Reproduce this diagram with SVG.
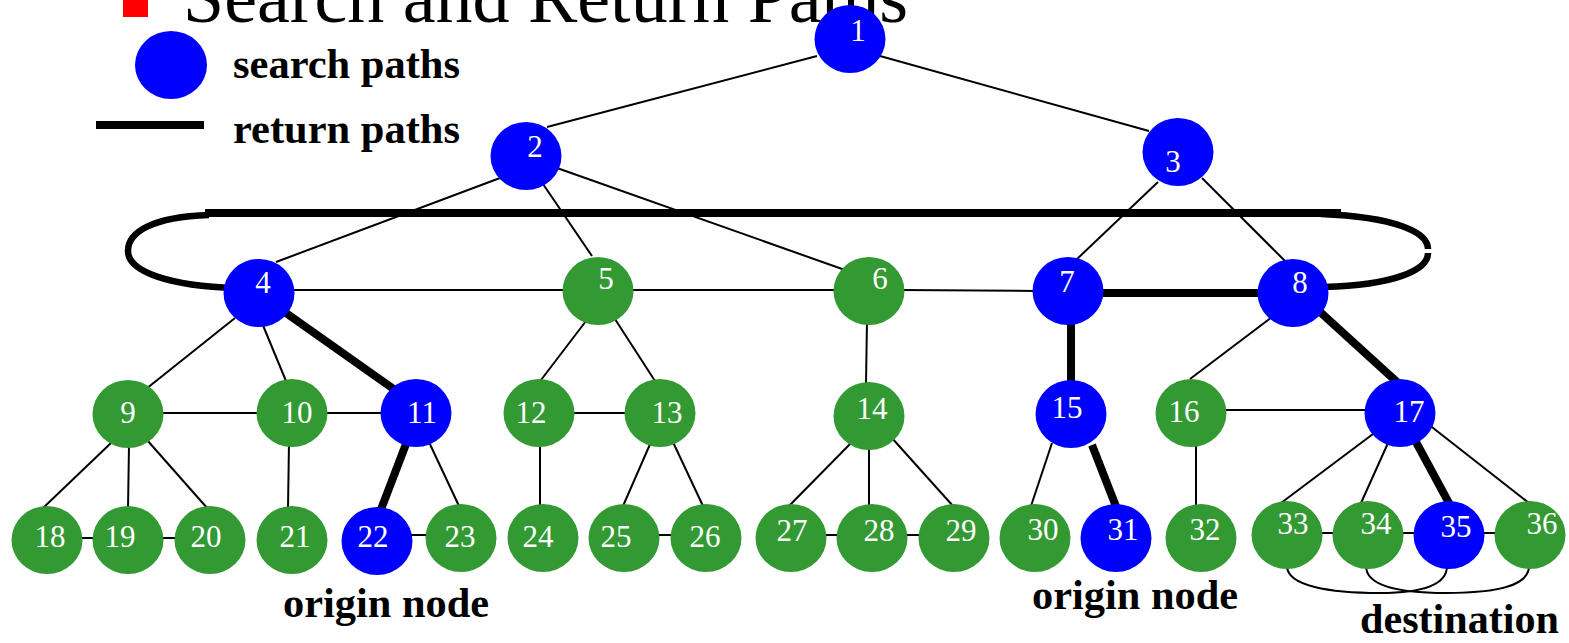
<svg xmlns="http://www.w3.org/2000/svg" width="1569" height="643" viewBox="0 0 1569 643">
  <style>
    .edge { stroke: #000; stroke-width: 2; fill: none; }
    .ret { stroke: #000; stroke-width: 8; fill: none; }
    .loop { stroke: #000; stroke-width: 6.5; fill: none; }
    .blue { fill: #0000ff; }
    .green { fill: #339933; }
    .num { font-family: "Liberation Serif", "Times New Roman", serif; font-size: 31px; fill: #fff; text-anchor: middle; }
    .cap { font-family: "Liberation Serif", "Times New Roman", serif; font-size: 43px; font-weight: bold; fill: #000; }
  </style>

  <!-- heading -->
  <g id="heading">
    <rect x="123" y="-8" width="25" height="25" fill="#ff0000"/>
    <text x="183" y="22" font-family="Liberation Serif, Times New Roman, serif" font-size="74" fill="#000" textLength="725" lengthAdjust="spacingAndGlyphs">Search and Return Paths</text>
  </g>

  <!-- legend -->
  <g id="legend">
    <ellipse cx="171" cy="65" rx="36" ry="34" class="blue"/>
    <text x="233" y="78" class="cap" textLength="227" lengthAdjust="spacingAndGlyphs">search paths</text>
    <rect x="96" y="121" width="108" height="8" fill="#000"/>
    <text x="233" y="143" class="cap" textLength="227" lengthAdjust="spacingAndGlyphs">return paths</text>
  </g>

  <!-- connectors -->
  <g id="connectors">
    <line class="edge" x1="817" y1="56" x2="547" y2="127"/>
    <line class="edge" x1="880" y1="56" x2="1149" y2="131"/>
    <line class="edge" x1="500" y1="178" x2="276" y2="262"/>
    <line class="edge" x1="543" y1="184" x2="592" y2="256"/>
    <line class="edge" x1="557" y1="168" x2="845" y2="270"/>
    <line class="edge" x1="1158" y1="182" x2="1076" y2="260"/>
    <line class="edge" x1="1202" y1="178" x2="1285" y2="261"/>
    <line class="edge" x1="290" y1="290" x2="566" y2="290"/>
    <line class="edge" x1="630" y1="290" x2="834" y2="290"/>
    <line class="edge" x1="900" y1="290" x2="1036" y2="291"/>
    <line class="edge" x1="235" y1="318" x2="146" y2="389"/>
    <line class="edge" x1="262" y1="323" x2="286" y2="381"/>
    <line class="edge" x1="586" y1="321" x2="541" y2="380"/>
    <line class="edge" x1="613" y1="316" x2="655" y2="381"/>
    <line class="edge" x1="867" y1="320" x2="866" y2="384"/>
    <line class="edge" x1="1272" y1="317" x2="1190" y2="379"/>
    <line class="edge" x1="158" y1="413" x2="260" y2="413"/>
    <line class="edge" x1="322" y1="413" x2="385" y2="413"/>
    <line class="edge" x1="568" y1="413" x2="628" y2="413"/>
    <line class="edge" x1="1220" y1="410" x2="1370" y2="410"/>
    <line class="edge" x1="111" y1="443" x2="43" y2="508"/>
    <line class="edge" x1="129" y1="445" x2="128" y2="509"/>
    <line class="edge" x1="147" y1="440" x2="208" y2="509"/>
    <line class="edge" x1="289" y1="442" x2="288" y2="509"/>
    <line class="edge" x1="428" y1="440" x2="459" y2="506"/>
    <line class="edge" x1="540" y1="442" x2="540" y2="506"/>
    <line class="edge" x1="651" y1="442" x2="623" y2="506"/>
    <line class="edge" x1="672" y1="440" x2="703" y2="506"/>
    <line class="edge" x1="851" y1="443" x2="789" y2="506"/>
    <line class="edge" x1="869" y1="445" x2="869" y2="506"/>
    <line class="edge" x1="891" y1="437" x2="953" y2="506"/>
    <line class="edge" x1="1052" y1="443" x2="1031" y2="506"/>
    <line class="edge" x1="1196" y1="442" x2="1196" y2="506"/>
    <line class="edge" x1="1373" y1="434" x2="1281" y2="503"/>
    <line class="edge" x1="1388" y1="443" x2="1361" y2="503"/>
    <line class="edge" x1="1428" y1="424" x2="1529" y2="503"/>
    <line class="edge" x1="75" y1="538" x2="98" y2="538"/>
    <line class="edge" x1="153" y1="538" x2="180" y2="538"/>
    <line class="edge" x1="406" y1="535" x2="431" y2="535"/>
    <line class="edge" x1="653" y1="535" x2="676" y2="535"/>
    <line class="edge" x1="818" y1="535" x2="842" y2="535"/>
    <line class="edge" x1="901" y1="535" x2="924" y2="535"/>
    <line class="edge" x1="1314" y1="533" x2="1338" y2="533"/>
    <line class="edge" x1="1396" y1="533" x2="1419" y2="533"/>
    <line class="edge" x1="1478" y1="533" x2="1501" y2="533"/>
    <path class="edge" d="M 1287 566 C 1287 586, 1330 593, 1380 593 C 1422 593, 1447 585, 1447 566"/>
    <path class="edge" d="M 1366 566 C 1366 586, 1400 593, 1446 593 C 1500 593, 1529 585, 1529 566"/>

    <!-- return paths -->
    <line class="ret" x1="1100" y1="293" x2="1262" y2="293"/>
    <line class="ret" x1="286" y1="313" x2="395" y2="390"/>
    <line class="ret" x1="1071" y1="322" x2="1071" y2="385"/>
    <line class="ret" x1="1319" y1="311" x2="1397" y2="382"/>
    <line class="ret" x1="406" y1="444" x2="380" y2="512"/>
    <line class="ret" x1="1092" y1="445" x2="1117" y2="509"/>
    <line class="ret" x1="1416" y1="442" x2="1450" y2="505"/>
    <line class="ret" x1="205" y1="213" x2="1341" y2="213" stroke-width="7"/>
    <path class="loop" d="M 209 215 C 152 217, 128 232, 128 251 C 128 272, 170 286, 236 288"/>
    <path class="loop" d="M 1321 214 C 1395 217, 1428 232, 1428 249 M 1428 253 C 1428 270, 1395 285, 1324 287"/>
  </g>

  <!-- nodes -->
  <g id="n1"><ellipse cx="850" cy="39" rx="35.5" ry="34" class="blue"/><text x="858" y="41" class="num">1</text></g>
  <g id="n2"><ellipse cx="526" cy="156" rx="35.5" ry="34" class="blue"/><text x="535" y="157" class="num">2</text></g>
  <g id="n3"><ellipse cx="1178" cy="152" rx="35.5" ry="34" class="blue"/><text x="1173" y="172" class="num">3</text></g>
  <g id="n4"><ellipse cx="259" cy="293" rx="35.5" ry="34" class="blue"/><text x="263" y="293" class="num">4</text></g>
  <g id="n5"><ellipse cx="598" cy="291" rx="35.5" ry="34" class="green"/><text x="606" y="289" class="num">5</text></g>
  <g id="n6"><ellipse cx="869" cy="291" rx="35.5" ry="34" class="green"/><text x="880" y="289" class="num">6</text></g>
  <g id="n7"><ellipse cx="1068" cy="291" rx="35.5" ry="34" class="blue"/><text x="1067" y="292" class="num">7</text></g>
  <g id="n8"><ellipse cx="1293" cy="293" rx="35.5" ry="34" class="blue"/><text x="1300" y="293" class="num">8</text></g>
  <g id="n9"><ellipse cx="128" cy="414" rx="35.5" ry="34" class="green"/><text x="128" y="423" class="num">9</text></g>
  <g id="n10"><ellipse cx="292" cy="413" rx="35.5" ry="34" class="green"/><text x="297" y="423" class="num">10</text></g>
  <g id="n11"><ellipse cx="416" cy="413" rx="35.5" ry="34" class="blue"/><text x="422" y="423" class="num">11</text></g>
  <g id="n12"><ellipse cx="539" cy="413" rx="35.5" ry="34" class="green"/><text x="531" y="423" class="num">12</text></g>
  <g id="n13"><ellipse cx="660" cy="413" rx="35.5" ry="34" class="green"/><text x="667" y="423" class="num">13</text></g>
  <g id="n14"><ellipse cx="869" cy="416" rx="35.5" ry="34" class="green"/><text x="872" y="419" class="num">14</text></g>
  <g id="n15"><ellipse cx="1071" cy="414" rx="35.5" ry="34" class="blue"/><text x="1067" y="418" class="num">15</text></g>
  <g id="n16"><ellipse cx="1191" cy="413" rx="35.5" ry="34" class="green"/><text x="1184" y="422" class="num">16</text></g>
  <g id="n17"><ellipse cx="1400" cy="413" rx="35.5" ry="34" class="blue"/><text x="1409" y="422" class="num">17</text></g>
  <g id="n18"><ellipse cx="47" cy="540" rx="35.5" ry="34" class="green"/><text x="50" y="547" class="num">18</text></g>
  <g id="n19"><ellipse cx="128" cy="540" rx="35.5" ry="34" class="green"/><text x="120" y="547" class="num">19</text></g>
  <g id="n20"><ellipse cx="210" cy="540" rx="35.5" ry="34" class="green"/><text x="206" y="547" class="num">20</text></g>
  <g id="n21"><ellipse cx="292" cy="540" rx="35.5" ry="34" class="green"/><text x="295" y="547" class="num">21</text></g>
  <g id="n22"><ellipse cx="377" cy="541" rx="35.5" ry="34" class="blue"/><text x="373" y="547" class="num">22</text></g>
  <g id="n23"><ellipse cx="461" cy="538" rx="35.5" ry="34" class="green"/><text x="460" y="547" class="num">23</text></g>
  <g id="n24"><ellipse cx="543" cy="538" rx="35.5" ry="34" class="green"/><text x="538" y="547" class="num">24</text></g>
  <g id="n25"><ellipse cx="624" cy="538" rx="35.5" ry="34" class="green"/><text x="616" y="547" class="num">25</text></g>
  <g id="n26"><ellipse cx="706" cy="538" rx="35.5" ry="34" class="green"/><text x="705" y="547" class="num">26</text></g>
  <g id="n27"><ellipse cx="791" cy="538" rx="35.5" ry="34" class="green"/><text x="792" y="541" class="num">27</text></g>
  <g id="n28"><ellipse cx="872" cy="538" rx="35.5" ry="34" class="green"/><text x="879" y="541" class="num">28</text></g>
  <g id="n29"><ellipse cx="954" cy="538" rx="35.5" ry="34" class="green"/><text x="961" y="541" class="num">29</text></g>
  <g id="n30"><ellipse cx="1035" cy="538" rx="35.5" ry="34" class="green"/><text x="1043" y="540" class="num">30</text></g>
  <g id="n31"><ellipse cx="1116" cy="538" rx="35.5" ry="34" class="blue"/><text x="1123" y="540" class="num">31</text></g>
  <g id="n32"><ellipse cx="1201" cy="538" rx="35.5" ry="34" class="green"/><text x="1205" y="540" class="num">32</text></g>
  <g id="n33"><ellipse cx="1287" cy="535" rx="35.5" ry="34" class="green"/><text x="1293" y="534" class="num">33</text></g>
  <g id="n34"><ellipse cx="1368" cy="535" rx="35.5" ry="34" class="green"/><text x="1376" y="534" class="num">34</text></g>
  <g id="n35"><ellipse cx="1449" cy="535" rx="35.5" ry="34" class="blue"/><text x="1456" y="537" class="num">35</text></g>
  <g id="n36"><ellipse cx="1530" cy="535" rx="35.5" ry="34" class="green"/><text x="1542" y="534" class="num">36</text></g>

  <!-- captions -->
  <g id="captions">
    <text x="283" y="617" class="cap" textLength="206" lengthAdjust="spacingAndGlyphs">origin node</text>
    <text x="1032" y="609" class="cap" textLength="206" lengthAdjust="spacingAndGlyphs">origin node</text>
    <text x="1360" y="633" class="cap" textLength="199" lengthAdjust="spacingAndGlyphs">destination</text>
  </g>
</svg>
